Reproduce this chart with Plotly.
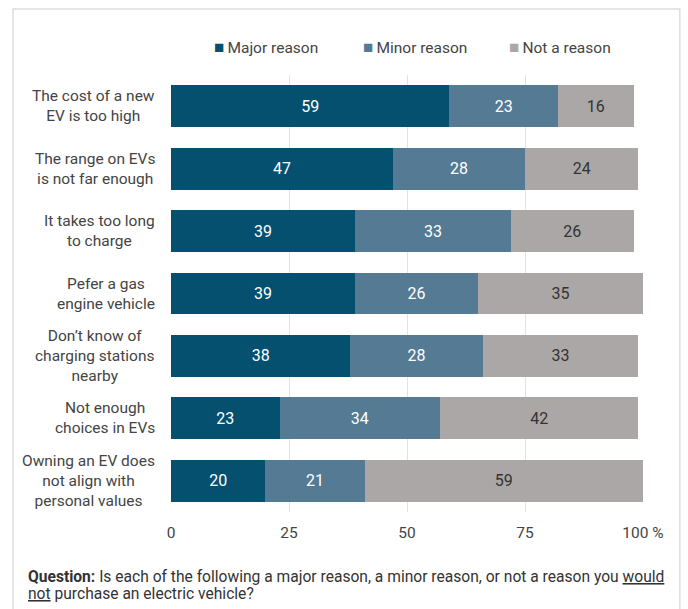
import plotly.graph_objects as go

categories = [
    "The cost of a new<br>EV is too high",
    "The range on EVs<br>is not far enough",
    "It takes too long<br>to charge",
    "Pefer a gas<br>engine vehicle",
    "Don’t know of<br>charging stations<br>nearby",
    "Not enough<br>choices in EVs",
    "Owning an EV does<br>not align with<br>personal values",
]
major = [59, 47, 39, 39, 38, 23, 20]
minor = [23, 28, 33, 26, 28, 34, 21]
not_reason = [16, 24, 26, 35, 33, 42, 59]

tick_vals = [0, 25, 50, 75, 100]
tick_text = ["0", "25", "50", "75", "100 %"]

question_lines = [
    "<b>Question:</b> Is each of the following a major reason, a minor reason, or not a reason you <u>would</u>",
    "<u>not</u> purchase an electric vehicle?",
]

series = [
    ("Major reason", major, "#05506f", "white"),
    ("Minor reason", minor, "#557a93", "white"),
    ("Not a reason", not_reason, "#aba7a6", "#333333"),
]

FONT = "Roboto"
TEXT_GREY = "#444444"

fig = go.Figure()
for name, vals, color, tcolor in series:
    fig.add_trace(go.Bar(
        y=categories, x=vals, name=name, orientation="h",
        marker=dict(color=color, line=dict(width=0)),
        text=[str(v) for v in vals], textposition="inside",
        insidetextanchor="middle",
        textfont=dict(color=tcolor, size=16, family=FONT),
        showlegend=False,
    ))

annotations = []

# category labels, centred multi-line blocks to the left of the bars
for cat in categories:
    annotations.append(dict(
        xref="paper", yref="y", x=0, y=cat, xshift=-14,
        xanchor="right", yanchor="middle", align="center",
        showarrow=False, text=cat,
        font=dict(size=15.5, color=TEXT_GREY, family=FONT),
    ))

# legend row: coloured square followed by the series name
legend_x = [0.086, 0.403, 0.712]
for (name, _, color, _), lx in zip(series, legend_x):
    annotations.append(dict(
        xref="paper", yref="paper", x=lx, y=1.0641,
        xanchor="left", yanchor="middle", showarrow=False,
        text=f"<span style='color:{color};font-size:17px'>■</span>\u2009{name}",
        font=dict(size=15.5, color=TEXT_GREY, family=FONT),
    ))

# question footnote, one annotation per line for tight line spacing
for i, line in enumerate(question_lines):
    annotations.append(dict(
        xref="paper", yref="paper", x=-0.3076, y=-0.1487 - i * 0.039,
        xanchor="left", yanchor="middle", align="left", showarrow=False,
        text=line,
        font=dict(size=15.6, color="#333333", family=FONT),
    ))

fig.update_layout(
    width=688, height=609,
    barmode="stack", bargap=0.33,
    paper_bgcolor="white", plot_bgcolor="white",
    font=dict(family=FONT, color=TEXT_GREY, size=15),
    margin=dict(l=171, r=45, t=75, b=97),
    showlegend=False,
    xaxis=dict(range=[0, 100], tickvals=tick_vals, ticktext=tick_text,
               showgrid=True, gridcolor="#e3e3e3", gridwidth=1,
               zeroline=False, showline=False, ticks="",
               tickfont=dict(size=15.5, color=TEXT_GREY), ticklabelstandoff=9),
    yaxis=dict(categoryorder="array", categoryarray=categories[::-1],
               showgrid=False, ticks="", showticklabels=False),
    uniformtext=dict(mode="show", minsize=16),
    shapes=[dict(type="path", xref="paper", yref="paper",
                 path="M -0.3347,-0.3 L -0.3347,1.151 L 1.078,1.151 L 1.078,-0.3",
                 line=dict(color="#dddddd", width=1.5))],
    annotations=annotations,
)

fig.write_html("out.html")
